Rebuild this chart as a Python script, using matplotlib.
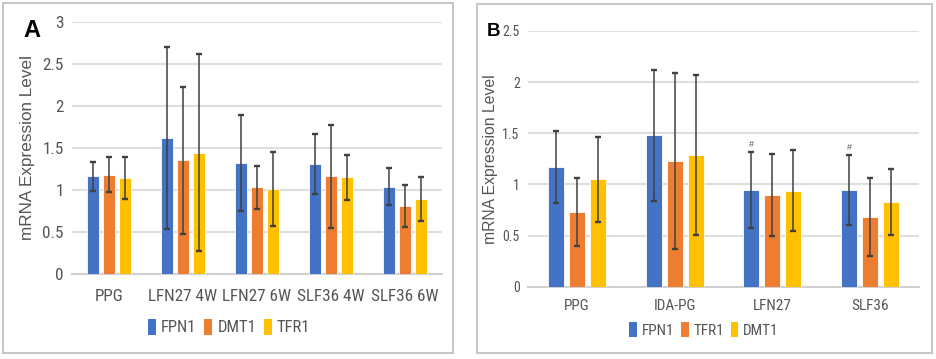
import matplotlib
matplotlib.use("Agg")
import matplotlib.pyplot as plt
import numpy as np
from matplotlib.patches import Rectangle, Patch

# ---------------- data ----------------
cats_a = ["PPG", "LFN27 4W", "LFN27 6W", "SLF36 4W", "SLF36 6W"]
series_a = ["FPN1", "DMT1", "TFR1"]
fpn1_a = [1.16, 1.62, 1.32, 1.31, 1.04]
dmt1_a = [1.18, 1.35, 1.03, 1.16, 0.81]
tfr1_a = [1.14, 1.44, 1.01, 1.15, 0.89]
fpn1_a_err = [0.17, 1.08, 0.57, 0.36, 0.22]
dmt1_a_err = [0.21, 0.87, 0.26, 0.61, 0.25]
tfr1_a_err = [0.25, 1.17, 0.44, 0.27, 0.26]

cats_b = ["PPG", "IDA-PG", "LFN27", "SLF36"]
series_b = ["FPN1", "TFR1", "DMT1"]
fpn1_b = [1.17, 1.48, 0.945, 0.945]
tfr1_b = [0.73, 1.23, 0.90, 0.68]
dmt1_b = [1.05, 1.29, 0.94, 0.83]
fpn1_b_err = [0.35, 0.64, 0.37, 0.34]
tfr1_b_err = [0.33, 0.86, 0.40, 0.38]
dmt1_b_err = [0.415, 0.78, 0.40, 0.32]
hash_marks_b = ["", "", "#", "#"]

yticks_a = [0, 0.5, 1, 1.5, 2, 2.5, 3]
yticks_b = [0, 0.5, 1, 1.5, 2, 2.5]
ytick_labels_a = ["0", "0.5", "1", "1.5", "2", "2.5", "3"]
ytick_labels_b = ["0", "0.5", "1", "1.5", "2", "2.5"]

colors = ["#4472C4", "#ED7D31", "#FFC000"]
TXT = "#555555"
NARROW = ["Roboto Condensed", "DejaVu Sans"]
SANS = ["Liberation Sans", "DejaVu Sans"]

W, H = 936, 359
fig = plt.figure(figsize=(W / 100, H / 100), dpi=100)
fig.patch.set_facecolor("white")


def fx(px):
    return px / W


def fy(py):
    return 1 - py / H


# panel frames
for (x0, y0, x1, y1) in [(3, 3, 453, 353), (477, 4, 932, 353)]:
    fig.patches.append(Rectangle((fx(x0), fy(y1)), fx(x1 - x0), (y1 - y0) / H,
                                 transform=fig.transFigure, fill=False,
                                 edgecolor="#c8c8c8", linewidth=1.5))


def draw_panel(ax, cats, vals, errs, names, yticks, ylabels, ymax, fs_tick, fs_x,
               bw, stride, xpad):
    x = np.arange(len(cats))
    for i, (v, e) in enumerate(zip(vals, errs)):
        ax.bar(x + (i - 1) * stride, v, width=bw, color=colors[i],
               edgecolor="white", linewidth=0.6, zorder=3, label=names[i])
        ax.errorbar(x + (i - 1) * stride, v, yerr=e, fmt="none",
                    ecolor="#404040", elinewidth=1.1, capsize=2.4,
                    capthick=1.7, zorder=4)
    ax.set_xlim(-0.5, len(cats) - 0.5)
    ax.set_ylim(0, ymax)
    ax.set_yticks(yticks)
    ax.set_yticklabels(ylabels, fontsize=fs_tick, color=TXT, family=NARROW)
    ax.set_xticks(x)
    ax.set_xticklabels(cats, fontsize=fs_x, color=TXT, family=NARROW)
    ax.tick_params(length=0)
    ax.tick_params(axis="x", pad=xpad)
    ax.tick_params(axis="y", pad=6)
    for s in ["top", "right", "left"]:
        ax.spines[s].set_visible(False)
    ax.spines["bottom"].set_color("#d0d0d0")
    ax.spines["bottom"].set_linewidth(1.5)
    ax.yaxis.grid(True, color="#dedede", linewidth=1.5, zorder=0)
    ax.set_axisbelow(True)
    return x


# Panel A
axA = fig.add_axes([fx(72), fy(274), fx(442 - 72), (274 - 21.7) / H])
draw_panel(axA, cats_a, [fpn1_a, dmt1_a, tfr1_a],
           [fpn1_a_err, dmt1_a_err, tfr1_a_err], series_a,
           yticks_a, ytick_labels_a, 3, 12.3, 12.3, 0.162, 0.216, 10.5)
axA.set_ylabel("mRNA Expression Level", fontsize=12.3, color=TXT, family=SANS,
               labelpad=5)
fig.text(fx(23), fy(37), "A", fontsize=17, fontweight="bold", family=SANS,
         color="black", ha="left", va="baseline")
handles = [Patch(facecolor=c, label=n) for c, n in zip(colors, series_a)]
fig.legend(handles=handles, loc="center", bbox_to_anchor=(fx(229), fy(327)),
           ncol=3, frameon=False, handlelength=0.5, handleheight=1.1,
           handletextpad=0.3, columnspacing=0.45,
           prop={"family": NARROW, "size": 12}, labelcolor=TXT)

# Panel B
axB = fig.add_axes([fx(528), fy(286.7), fx(919 - 528), (286.7 - 31) / H])
xb = draw_panel(axB, cats_b, [fpn1_b, tfr1_b, dmt1_b],
                [fpn1_b_err, tfr1_b_err, dmt1_b_err], series_b,
                yticks_b, ytick_labels_b, 2.5, 10, 11, 0.164, 0.215, 9)
axB.set_ylabel("mRNA Expression Level", fontsize=11.3, color=TXT, family=SANS,
               labelpad=3)
for xi, mark, v, e in zip(xb, hash_marks_b, fpn1_b, fpn1_b_err):
    if mark:
        axB.text(xi - 0.215, v + e + 0.03, mark, ha="center", va="bottom",
                 fontsize=6.5, color=TXT, family=SANS)
fig.text(fx(487), fy(36), "B", fontsize=13.5, fontweight="bold", family=SANS,
         color="black", ha="left", va="baseline")
handles = [Patch(facecolor=c, label=n) for c, n in zip(colors, series_b)]
fig.legend(handles=handles, loc="center", bbox_to_anchor=(fx(704), fy(330)),
           ncol=3, frameon=False, handlelength=0.5, handleheight=1.1,
           handletextpad=0.3, columnspacing=0.45,
           prop={"family": NARROW, "size": 11}, labelcolor=TXT)

fig.savefig("out.png", dpi=100, facecolor="white")
